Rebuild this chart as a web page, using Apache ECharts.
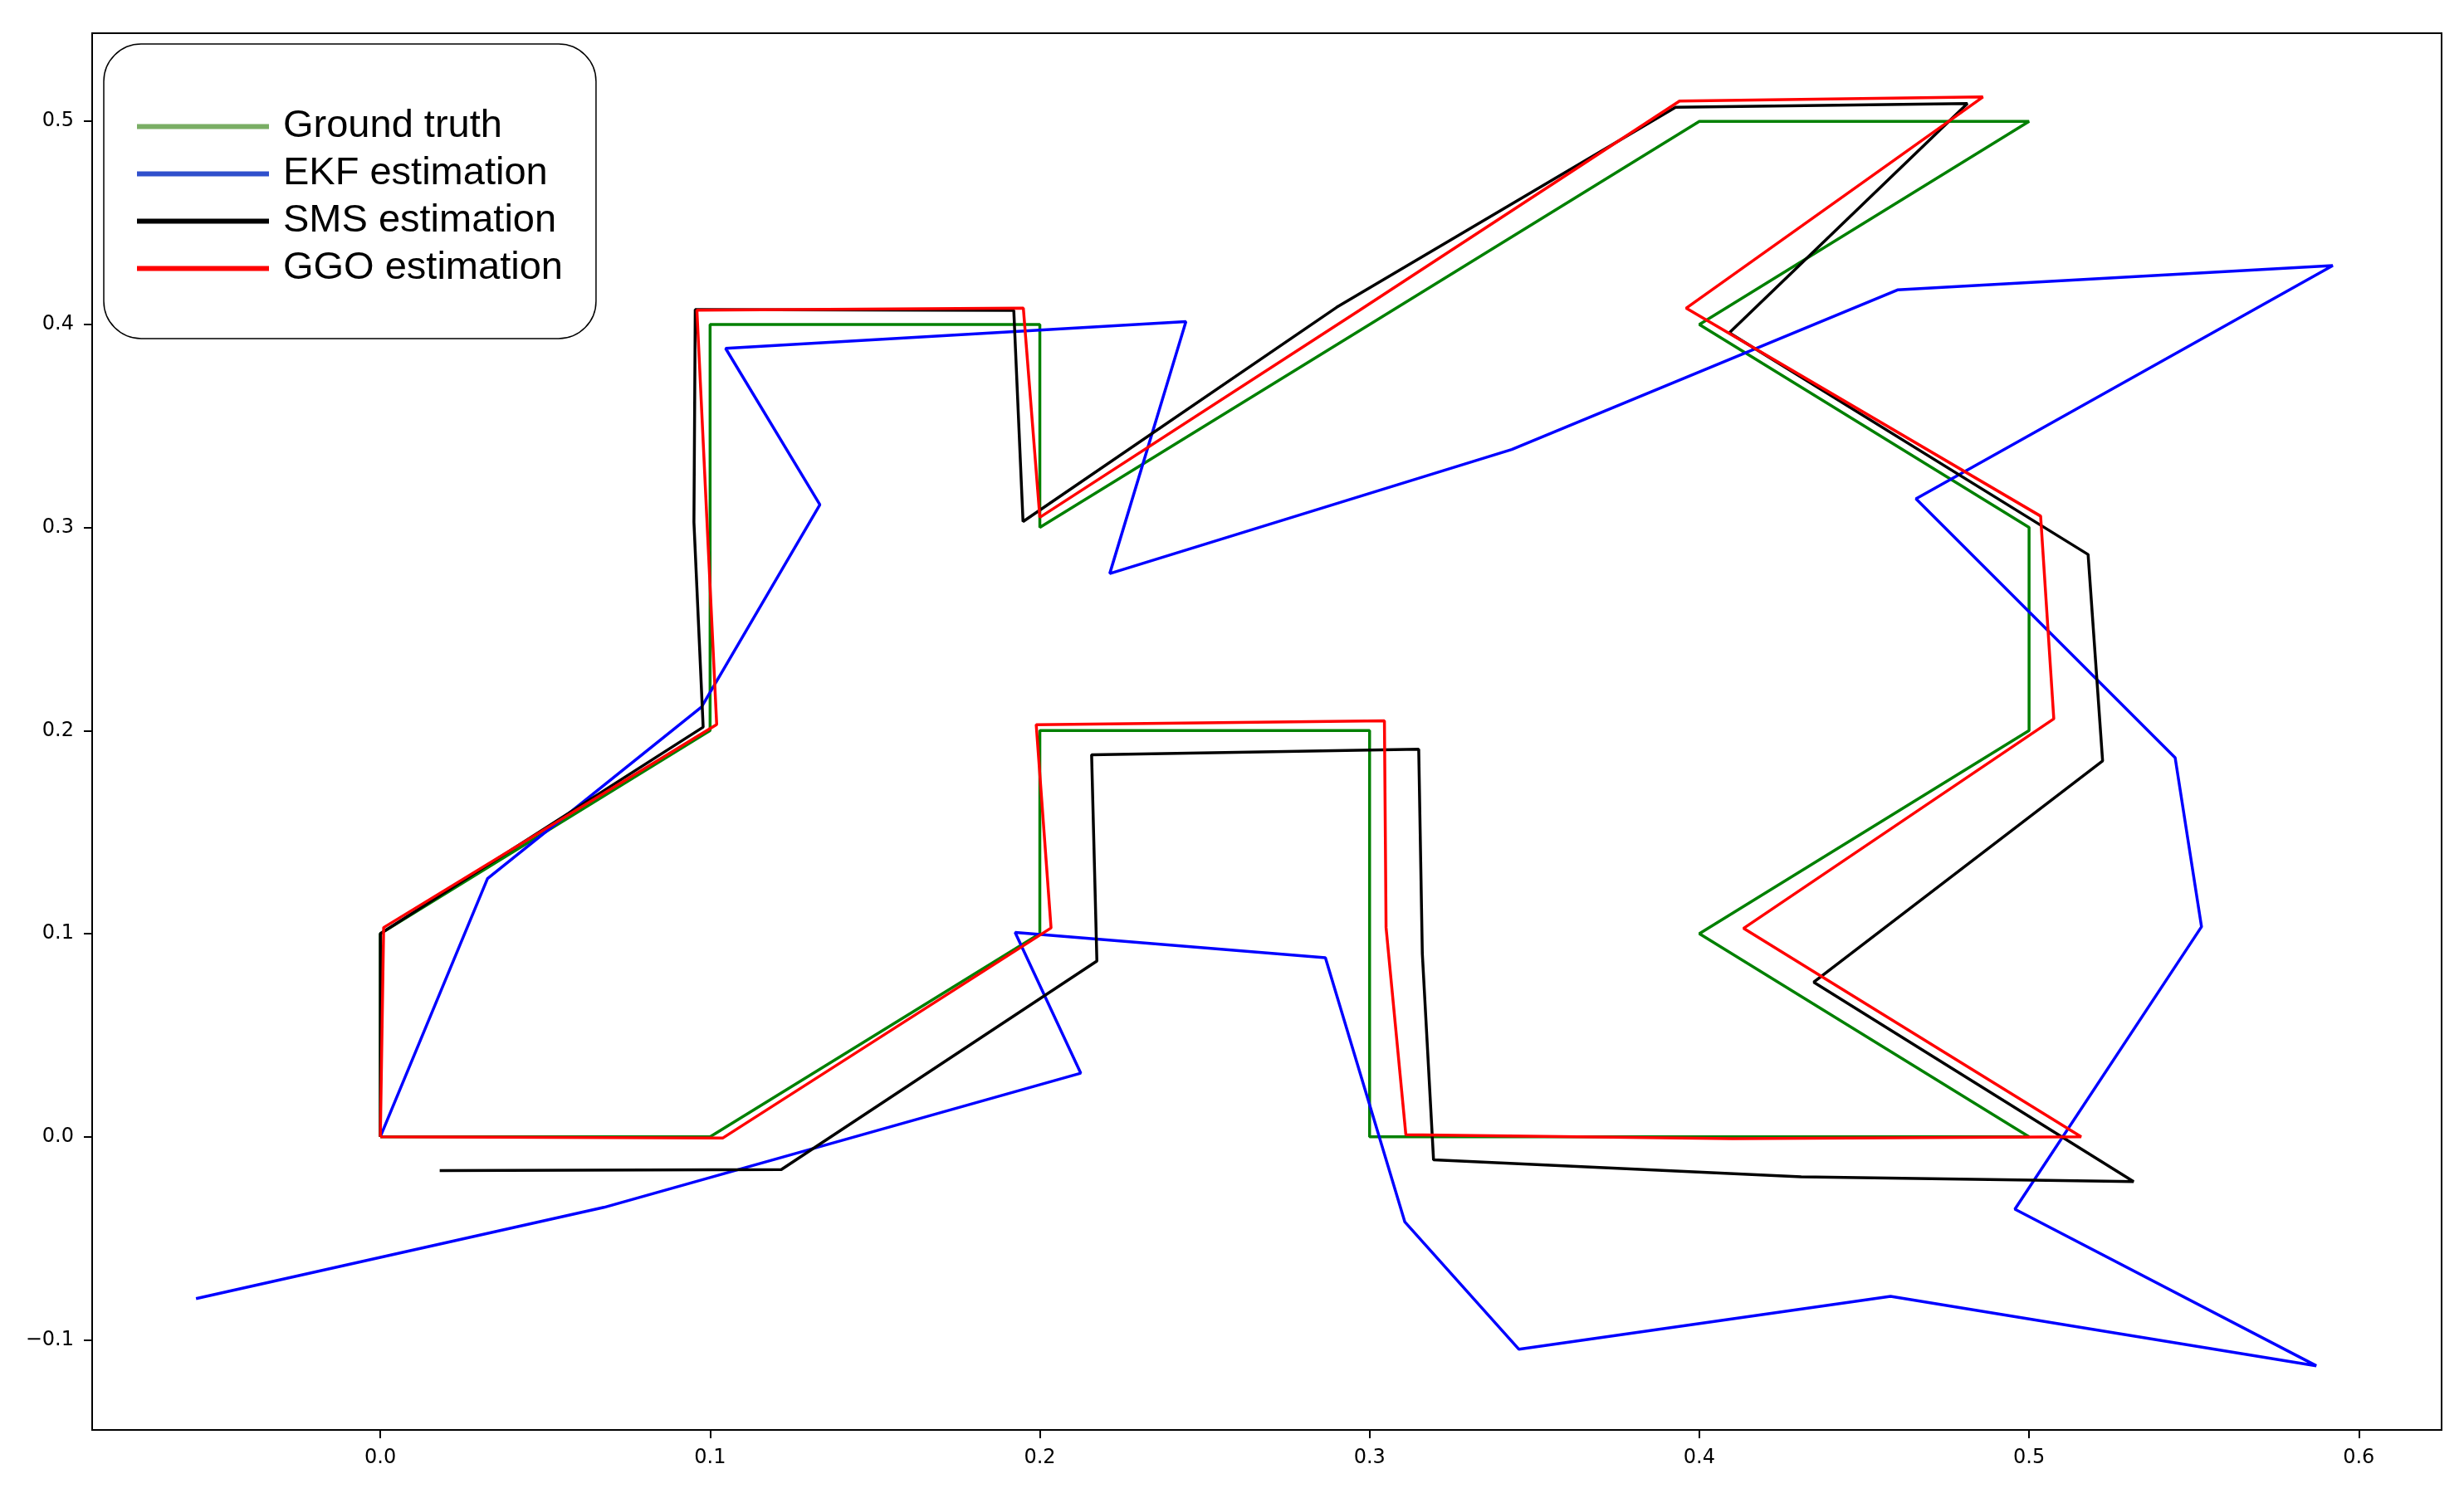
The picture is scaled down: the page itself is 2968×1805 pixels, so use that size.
<!DOCTYPE html>
<html>
<head>
<meta charset="utf-8">
<script src="https://cdn.jsdelivr.net/npm/echarts@6/dist/echarts.min.js"></script>
<style>
  html, body { margin: 0; padding: 0; background: #fff; }
  #chart { width: 2968px; height: 1805px; }
</style>
</head>
<body>
<div id="chart"></div>
<script>
// trajectories, [x, y] per waypoint
var groundTruth = [
  [0, 0], [0, 0.1], [0.1, 0.2], [0.1, 0.3], [0.1, 0.4], [0.2, 0.4], [0.2, 0.3],
  [0.3, 0.4], [0.4, 0.5], [0.5, 0.5], [0.4, 0.4], [0.5, 0.3], [0.5, 0.2],
  [0.4, 0.1], [0.5, 0], [0.4, 0], [0.3, 0], [0.3, 0.1], [0.3, 0.2], [0.2, 0.2],
  [0.2, 0.1], [0.1, 0], [0, 0]
];
var ekf = [
  [0, 0], [0.0325, 0.1271], [0.0974, 0.2116], [0.1333, 0.3112], [0.1047, 0.3882],
  [0.2443, 0.4014], [0.2212, 0.2773], [0.3431, 0.3384], [0.4601, 0.4170],
  [0.5921, 0.4290], [0.4657, 0.3141], [0.5443, 0.1866], [0.5523, 0.1034],
  [0.4957, -0.0357], [0.5871, -0.1128], [0.4580, -0.0786], [0.3453, -0.1047],
  [0.3107, -0.0420], [0.2866, 0.0881], [0.1925, 0.1006], [0.2124, 0.0313],
  [0.0678, -0.0348], [-0.0559, -0.0797]
];
var sms = [
  [0, 0], [0, 0.1], [0.0979, 0.2017], [0.0951, 0.3026], [0.0955, 0.4073],
  [0.1921, 0.4069], [0.1949, 0.3029], [0.2900, 0.4084], [0.3928, 0.5069],
  [0.4813, 0.5088], [0.4091, 0.3959], [0.5179, 0.2867], [0.5223, 0.1850],
  [0.4347, 0.0761], [0.5317, -0.0221], [0.4309, -0.0198], [0.3194, -0.0114],
  [0.3160, 0.0900], [0.3149, 0.1908], [0.2157, 0.1881], [0.2173, 0.0865],
  [0.1216, -0.0162], [0.0180, -0.0167]
];
var ggo = [
  [0, 0], [0.001, 0.103], [0.102, 0.203], [0.099, 0.305], [0.096, 0.407],
  [0.195, 0.408], [0.200, 0.305], [0.297, 0.407], [0.394, 0.510], [0.486, 0.512],
  [0.396, 0.408], [0.5035, 0.3056], [0.5075, 0.2058], [0.4134, 0.1026],
  [0.5158, 0.0], [0.410, -0.001], [0.311, 0.001], [0.305, 0.103], [0.3045, 0.2048],
  [0.1989, 0.2029], [0.2034, 0.1028], [0.1039, -0.0006], [0, 0]
];

var xTicks = [0, 0.1, 0.2, 0.3, 0.4, 0.5, 0.6];
var yTicks = [-0.1, 0, 0.1, 0.2, 0.3, 0.4, 0.5];

var names = ["Ground truth", "EKF estimation", "SMS estimation", "GGO estimation"];
var lineColors = ["#008000", "#0000ff", "#000000", "#ff0000"];
var legendColors = ["#7aae65", "#3050cc", "#000000", "#ff0000"];
var tracks = [groundTruth, ekf, sms, ggo];

function tickText(v) {
  return v.toFixed(1).replace("-", "\u2212");
}

var chart = echarts.init(document.getElementById("chart"));

var series = tracks.map(function (d, i) {
  return {
    name: names[i],
    type: "line",
    data: d,
    symbol: "none",
    showSymbol: false,
    z: 2 + i,
    lineStyle: { color: lineColors[i], width: 3.5 },
    itemStyle: { color: lineColors[i] },
  };
});

var axisCommon = {
  type: "value",
  axisLine: { show: true, onZero: false, lineStyle: { color: "#000", width: 2 } },
  axisTick: { show: true, length: 10, lineStyle: { color: "#000", width: 2 } },
  splitLine: { show: false },
  axisLabel: {
    color: "#000",
    fontFamily: "DejaVu Sans",
    fontSize: 24,
    margin: 22,
    formatter: tickText,
  },
};

var option = {
  animation: false,
  backgroundColor: "#fff",
  grid: {
    left: 111,
    right: 27,
    top: 40,
    bottom: 82,
    show: true,
    borderColor: "#000",
    borderWidth: 2,
  },
  xAxis: echarts.util.merge(
    {
      min: -0.0874,
      max: 0.6251,
      axisTick: { customValues: xTicks },
      axisLabel: { customValues: xTicks },
    },
    axisCommon
  ),
  yAxis: echarts.util.merge(
    {
      min: -0.1444,
      max: 0.5434,
      axisTick: { customValues: yTicks },
      axisLabel: { customValues: yTicks },
    },
    axisCommon
  ),
  legend: {
    orient: "vertical",
    left: 125,
    top: 53,
    padding: [76, 40, 61, 40],
    itemGap: 10,
    itemWidth: 159,
    itemHeight: 6,
    icon: "rect",
    backgroundColor: "#fff",
    borderColor: "#000",
    borderWidth: 1.5,
    borderRadius: 45,
    textStyle: {
      fontFamily: "Liberation Sans",
      fontSize: 47,
      lineHeight: 47,
      color: "#000",
      padding: [0, 0, 0, 12],
    },
    data: names.map(function (n, i) {
      return { name: n, itemStyle: { color: legendColors[i] } };
    }),
  },
  series: series,
};

chart.setOption(option);
</script>
</body>
</html>
